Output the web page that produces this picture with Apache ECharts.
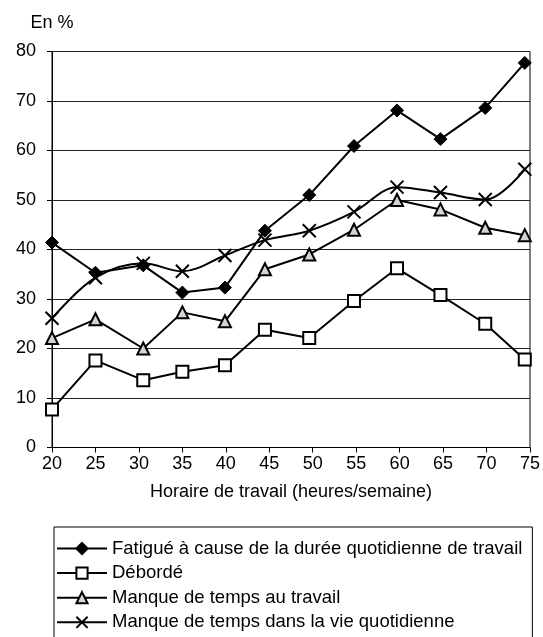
<!DOCTYPE html>
<html><head><meta charset="utf-8">
<script src="https://cdn.jsdelivr.net/npm/echarts@6/dist/echarts.min.js"></script>
<style>html,body{margin:0;padding:0;background:#fff}#c{width:543px;height:637px}</style>
</head><body><div id="c"></div>
<script>
const hours = [20, 25, 30.5, 35, 39.9, 44.5, 49.6, 54.75, 59.7, 64.7, 69.85, 74.4];
const xTicks = [20, 25, 30, 35, 40, 45, 50, 55, 60, 65, 70, 75];
const seriesNames = [
  'Fatigué à cause de la durée quotidienne de travail',
  'Débordé',
  'Manque de temps au travail',
  'Manque de temps dans la vie quotidienne'
];
const fatigue = [41.4, 35.3, 36.8, 31.3, 32.3, 43.8, 51.0, 60.9, 68.1, 62.3, 68.6, 77.7];
const deborde = [7.7, 17.6, 13.6, 15.3, 16.6, 23.8, 22.1, 29.6, 36.2, 30.8, 25.0, 17.8];
const manqueTravail = [22.1, 25.9, 20.0, 27.3, 25.5, 36.0, 39.0, 44.0, 50.0, 48.1, 44.4, 42.9];
const manqueVie = [26.1, 34.3, 37.2, 35.6, 38.8, 41.9, 43.8, 47.6, 52.6, 51.5, 50.1, 56.2];

const pair = arr => arr.map((v, i) => [hours[i], v]);
const FONT = '"Liberation Sans", Arial, sans-serif';
const chart = echarts.init(document.getElementById('c'), null, {renderer: 'canvas'});
chart.setOption({
  animation: false,
  backgroundColor: '#fff',
  textStyle: {fontFamily: FONT, color: '#000'},
  grid: {left: 52, right: 11, top: 51.5, bottom: 189.5, show: true, borderColor: '#000', borderWidth: 1},
  xAxis: {
    type: 'value', min: 20, max: 75, interval: 5,
    name: 'Horaire de travail (heures/semaine)', nameLocation: 'middle', nameGap: 36,
    nameTextStyle: {fontSize: 18, color: '#000', fontFamily: FONT},
    axisLine: {lineStyle: {color: '#000', width: 1}},
    axisTick: {show: true, length: 5, lineStyle: {color: '#000'}},
    axisLabel: {fontSize: 18, color: '#000', margin: 8, fontFamily: FONT,
      formatter: v => xTicks.includes(v) ? String(v) : ''},
    splitLine: {show: false}
  },
  yAxis: {
    type: 'value', min: 0, max: 80, interval: 10,
    name: 'En %', nameLocation: 'end', nameGap: 19,
    nameTextStyle: {fontSize: 18, color: '#000', fontFamily: FONT, align: 'center'},
    axisLine: {show: true, lineStyle: {color: '#000', width: 1}},
    axisTick: {show: true, length: 5, lineStyle: {color: '#000'}},
    axisLabel: {fontSize: 18, color: '#000', margin: 16, fontFamily: FONT},
    splitLine: {show: true, lineStyle: {color: '#222', width: 1}}
  },
  legend: {
    orient: 'vertical', left: 54, top: 527, height: 200,
    borderColor: '#000', borderWidth: 1,
    padding: [12, 10, 40, 2],
    itemWidth: 50, itemHeight: 14, itemGap: 5.6,
    textStyle: {fontSize: 18.5, color: '#000', fontFamily: FONT},
    data: seriesNames
  },
  series: [
    {name: seriesNames[0], type: 'line', data: pair(fatigue), symbol: 'diamond', symbolSize: 13,
      lineStyle: {color: '#000', width: 2}, itemStyle: {color: '#000', borderColor: '#000', borderWidth: 1}, z: 4},
    {name: seriesNames[1], type: 'line', data: pair(deborde), symbol: 'rect', symbolSize: 12,
      lineStyle: {color: '#000', width: 2}, itemStyle: {color: '#fff', borderColor: '#000', borderWidth: 2}, z: 3},
    {name: seriesNames[2], type: 'line', data: pair(manqueTravail), symbol: 'triangle', symbolSize: 12,
      lineStyle: {color: '#000', width: 2}, itemStyle: {color: '#d4d4d4', borderColor: '#000', borderWidth: 2}, z: 3},
    {name: seriesNames[3], type: 'line', data: pair(manqueVie), smooth: 0.35,
      symbol: 'path://M0,0L10,10M10,0L0,10', symbolSize: 13,
      lineStyle: {color: '#000', width: 2}, itemStyle: {color: 'none', borderColor: '#000', borderWidth: 2}, z: 3}
  ]
});
</script></body></html>
